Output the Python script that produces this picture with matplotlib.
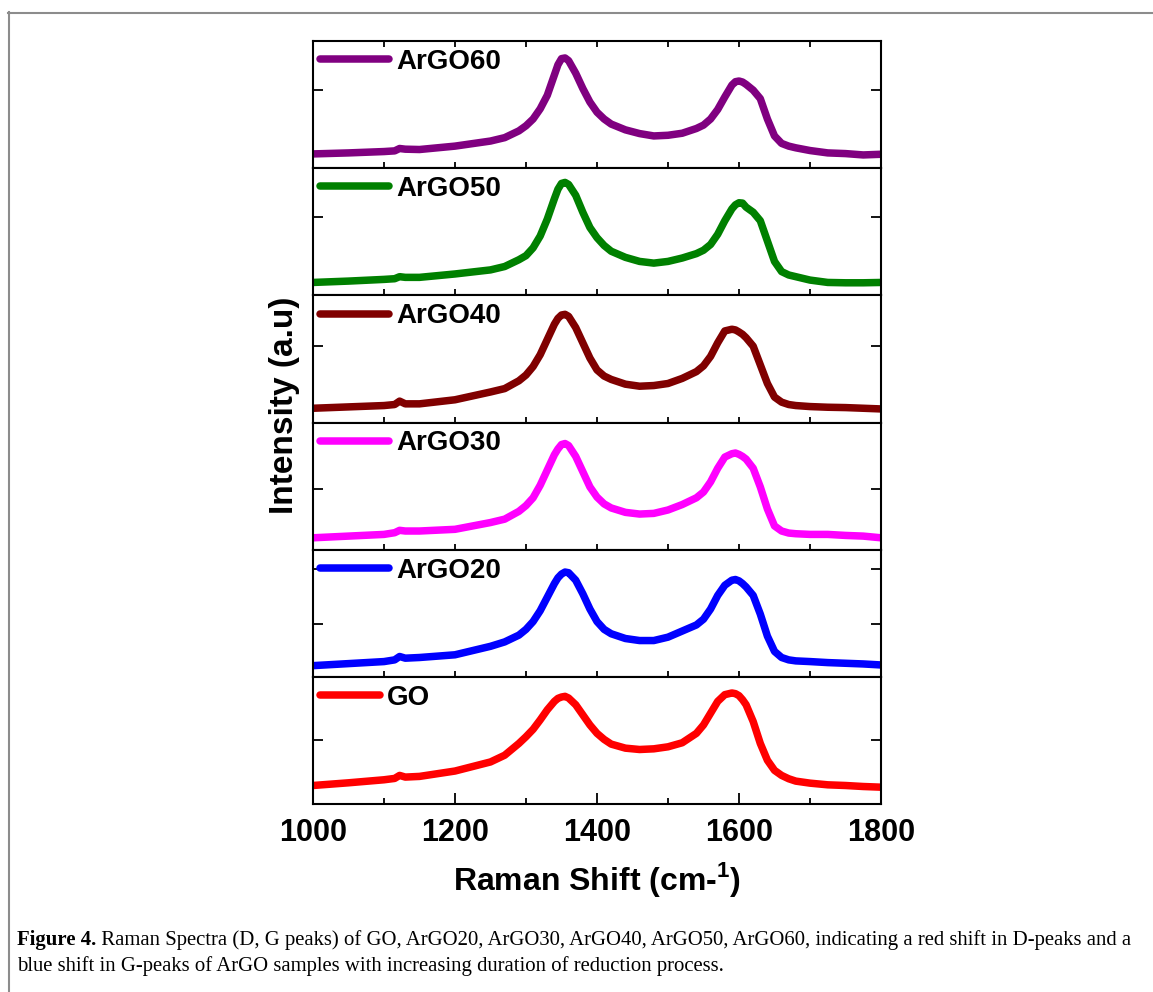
import matplotlib
matplotlib.use("Agg")
import matplotlib.pyplot as plt
from matplotlib.lines import Line2D
from matplotlib.font_manager import FontProperties
from matplotlib.ticker import MultipleLocator, FixedLocator

plt.rcParams['font.family'] = ['Liberation Sans', 'DejaVu Sans']
plt.rcParams['mathtext.fontset'] = 'custom'
plt.rcParams['mathtext.rm'] = 'Liberation Sans:bold'
plt.rcParams['mathtext.bf'] = 'Liberation Sans:bold'

# ---------------- data ----------------
shift = [1000, 1050, 1100, 1115, 1122, 1130, 1150, 1200, 1250, 1270, 1290,
         1300, 1310, 1320, 1330, 1340, 1345, 1350, 1355, 1360, 1370, 1380, 1390, 1400, 1410, 1420,
         1440, 1460, 1480, 1500, 1520, 1540,
         1550, 1560, 1570, 1580, 1590, 1595, 1600, 1605, 1610, 1620, 1630, 1640, 1650, 1660,
         1670, 1680, 1700, 1725, 1750, 1775, 1800]

argo60 = [42, 45, 49, 51, 58, 56, 55, 65, 80, 90, 110,
          125, 145, 175, 215, 275, 305, 323, 325, 317, 280, 235, 195, 165, 145, 130,
          113, 102, 95, 97, 103, 117,
          127, 145, 173, 210, 245, 255, 257, 254, 247, 230, 205, 145, 95, 73,
          65, 60, 52, 45, 43, 39, 41]

argo50 = [38, 42, 47, 49, 55, 53, 53, 63, 75, 85, 105,
          117, 140, 175, 225, 285, 313, 330, 333, 327, 295, 245, 200, 170, 147, 130,
          112, 100, 95, 100, 110, 123,
          133, 150, 180, 220, 255, 267, 273, 272, 260, 245, 220, 160, 100, 70,
          60, 55, 45, 38, 37, 37, 38]

argo40 = [42, 46, 50, 53, 63, 55, 55, 67, 90, 100, 123,
          140, 165, 200, 245, 290, 307, 317, 319, 313, 280, 235, 190, 155, 137, 127,
          113, 107, 109, 115, 130, 150,
          167, 195, 235, 270, 275, 273, 267, 260, 250, 225, 170, 115, 75, 60,
          53, 50, 47, 45, 44, 42, 40]

argo30 = [35, 40, 45, 50, 57, 55, 55, 60, 80, 90, 113,
          130, 153, 190, 235, 280, 297, 310, 313, 307, 275, 230, 185, 155, 135, 123,
          110, 105, 107, 117, 133, 153,
          170, 200, 240, 273, 283, 285, 281, 275, 267, 240, 185, 120, 70, 55,
          49, 47, 45, 45, 42, 40, 35]

argo20 = [33, 39, 45, 50, 60, 55, 57, 65, 90, 103, 123,
          140, 163, 195, 235, 275, 292, 303, 309, 307, 285, 245, 200, 163, 140, 127,
          113, 107, 107, 117, 135, 153,
          170, 200, 240, 270, 285, 287, 283, 275, 265, 240, 185, 120, 75, 57,
          50, 47, 45, 42, 40, 38, 35]

go = [55, 63, 72, 76, 85, 80, 82, 98, 125, 145, 180,
      200, 222, 250, 280, 305, 314, 318, 320, 315, 295, 265, 235, 210, 192, 178,
      166, 162, 164, 170, 182, 210,
      235, 270, 305, 325, 330, 328, 322, 310, 295, 245, 180, 130, 100, 85,
      75, 68, 62, 57, 55, 52, 50]

labels = ["ArGO60", "ArGO50", "ArGO40", "ArGO30", "ArGO20", "GO"]
series = [argo60, argo50, argo40, argo30, argo20, go]
colors = ["#800080", "#008000", "#800000", "#FF00FF", "#0000FF", "#FF0000"]
y_ticks = [[230], [230], [227], [180], [155, 317], [190]]
y_tops = [375, 375, 375, 375, 375, 378]
x_ticklabels = [1000, 1200, 1400, 1600, 1800]

# ---------------- layout ----------------
W, H = 1153, 992
fig = plt.figure(figsize=(W / 100, H / 100), dpi=100)

left_px, right_px, top_px, bot_px = 313, 881, 41, 804
ph = (bot_px - top_px) / 6.0

bold = FontProperties(family='Liberation Sans', weight='bold', size=20)
axes = []
for i, (lab, ys, col) in enumerate(zip(labels, series, colors)):
    y0 = top_px + i * ph
    ax = fig.add_axes([left_px / W, 1 - (y0 + ph) / H, (right_px - left_px) / W, ph / H])
    axes.append(ax)
    ln, = ax.plot(shift, ys, color=col, lw=5.4, solid_capstyle='round', solid_joinstyle='round')
    ax.set_xlim(1000, 1800)
    ax.set_ylim(0, y_tops[i])
    for sp in ax.spines.values():
        sp.set_linewidth(1.5)
    ax.yaxis.set_major_locator(FixedLocator(y_ticks[i]))
    ax.tick_params(axis='y', direction='in', length=7.5, width=1.3, left=True, right=True,
                   labelleft=False, labelright=False)
    last = (i == 5)
    if last:
        ax.xaxis.set_minor_locator(MultipleLocator(100))
        ax.tick_params(axis='x', which='major', direction='in', length=8, width=1.3,
                       top=False, labelsize=22, pad=10)
        ax.tick_params(axis='x', which='minor', direction='in', length=4.5, width=1.3, top=False)
        ax.set_xticks(x_ticklabels)
        ax.set_xticklabels([str(v) for v in x_ticklabels], fontweight='bold')
        ax.set_xlabel(r'Raman Shift (cm-$^{1}$)', fontsize=23, fontweight='bold', labelpad=9)
    else:
        ax.xaxis.set_major_locator(MultipleLocator(100))
        ax.tick_params(axis='x', direction='in', length=4, width=1.3, top=(i == 0),
                       labelbottom=False)
    hl = 2.5 if lab != "GO" else 2.15
    ax.legend([ln], [lab], loc='center left', bbox_to_anchor=(7 / 568, 1 - 21 / ph),
              frameon=False, borderpad=0, borderaxespad=0, handlelength=hl,
              handletextpad=0.25, prop=bold)

fig.text(285 / W, 1 - 405 / H, 'Intensity (a.u)', rotation=90, fontsize=24, fontweight='bold',
         ha='center', va='center')

# frame lines
fig.add_artist(Line2D([8.5 / W, 8.5 / W], [0, 1 - 12 / H], transform=fig.transFigure,
                      color='#8c8c8c', lw=1.5))
fig.add_artist(Line2D([8 / W, 1], [1 - 12.5 / H, 1 - 12.5 / H], transform=fig.transFigure,
                      color='#8c8c8c', lw=1.5))

# caption
cap_bold = 'Figure 4.'
cap1 = (' Raman Spectra (D, G peaks) of GO, ArGO20, ArGO30, ArGO40, ArGO50, ArGO60, '
        'indicating a red shift in D-peaks and a')
cap2 = 'blue shift in G-peaks of ArGO samples with increasing duration of reduction process.'
serif = ['Liberation Serif', 'DejaVu Serif']
fs = 12.5
x0 = 17
renderer = fig.canvas.get_renderer()
tb = fig.text(x0 / W, 1 - 940 / H, cap_bold, family=serif, weight='bold', fontsize=fs,
              ha='left', va='center')
wb = tb.get_window_extent(renderer).width
t1 = fig.text((x0 + wb) / W, 1 - 940 / H, cap1, family=serif, fontsize=fs, ha='left', va='center')
w1 = t1.get_window_extent(renderer).width
target = 1137 - x0
fs2 = fs * target / (wb + w1)
tb.set_fontsize(fs2)
wb = tb.get_window_extent(renderer).width
t1.set_fontsize(fs2)
t1.set_position(((x0 + wb) / W, 1 - 940 / H))
fig.text(x0 / W, 1 - 966 / H, cap2, family=serif, fontsize=fs2, ha='left', va='center')

fig.savefig('out.png', dpi=100)
